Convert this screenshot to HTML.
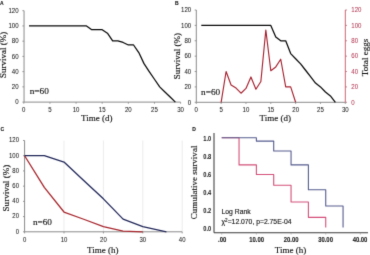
<!DOCTYPE html>
<html><head><meta charset="utf-8"><style>
html,body{margin:0;padding:0;background:#fff;}
svg{display:block;will-change:transform;}
</style></head><body>
<svg width="370" height="255" viewBox="0 0 370 255">
<defs><filter id="bl" x="0" y="0" width="1" height="1" color-interpolation-filters="sRGB"><feConvolveMatrix order="3" kernelMatrix="0.0100 0.0800 0.0100 0.0800 0.6400 0.0800 0.0100 0.0800 0.0100" divisor="1" edgeMode="duplicate"/></filter></defs>
<g filter="url(#bl)">
<rect width="370" height="255" fill="#fff"/>
<text x="0" y="4.6" font-size="5.0" font-family='"Liberation Sans", sans-serif' text-anchor="start" fill="#111" font-weight="bold" stroke="#111" stroke-width="0.1" >A</text>
<line x1="24.05" y1="10.7" x2="24.05" y2="102.1" stroke="#8a8a8a" stroke-width="1"/>
<line x1="24.05" y1="102.1" x2="180.6" y2="102.1" stroke="#8a8a8a" stroke-width="1"/>
<line x1="22.4" y1="102.1" x2="24.05" y2="102.1" stroke="#8a8a8a" stroke-width="0.9"/>
<text transform="translate(18.6,104.35) scale(1,1.08)" font-size="6.1" font-family='"Liberation Sans", sans-serif' text-anchor="end" fill="#222" font-weight="normal" stroke="#222" stroke-width="0.05">0</text>
<line x1="22.4" y1="86.87" x2="24.05" y2="86.87" stroke="#8a8a8a" stroke-width="0.9"/>
<text transform="translate(18.6,89.12) scale(1,1.08)" font-size="6.1" font-family='"Liberation Sans", sans-serif' text-anchor="end" fill="#222" font-weight="normal" stroke="#222" stroke-width="0.05">20</text>
<line x1="22.4" y1="71.63" x2="24.05" y2="71.63" stroke="#8a8a8a" stroke-width="0.9"/>
<text transform="translate(18.6,73.88) scale(1,1.08)" font-size="6.1" font-family='"Liberation Sans", sans-serif' text-anchor="end" fill="#222" font-weight="normal" stroke="#222" stroke-width="0.05">40</text>
<line x1="22.4" y1="56.4" x2="24.05" y2="56.4" stroke="#8a8a8a" stroke-width="0.9"/>
<text transform="translate(18.6,58.65) scale(1,1.08)" font-size="6.1" font-family='"Liberation Sans", sans-serif' text-anchor="end" fill="#222" font-weight="normal" stroke="#222" stroke-width="0.05">60</text>
<line x1="22.4" y1="41.17" x2="24.05" y2="41.17" stroke="#8a8a8a" stroke-width="0.9"/>
<text transform="translate(18.6,43.42) scale(1,1.08)" font-size="6.1" font-family='"Liberation Sans", sans-serif' text-anchor="end" fill="#222" font-weight="normal" stroke="#222" stroke-width="0.05">80</text>
<line x1="22.4" y1="25.93" x2="24.05" y2="25.93" stroke="#8a8a8a" stroke-width="0.9"/>
<text transform="translate(18.6,28.18) scale(1,1.08)" font-size="6.1" font-family='"Liberation Sans", sans-serif' text-anchor="end" fill="#222" font-weight="normal" stroke="#222" stroke-width="0.05">100</text>
<line x1="22.4" y1="10.7" x2="24.05" y2="10.7" stroke="#8a8a8a" stroke-width="0.9"/>
<text transform="translate(18.6,12.95) scale(1,1.08)" font-size="6.1" font-family='"Liberation Sans", sans-serif' text-anchor="end" fill="#222" font-weight="normal" stroke="#222" stroke-width="0.05">120</text>
<line x1="23.8" y1="102.1" x2="23.8" y2="103.7" stroke="#8a8a8a" stroke-width="0.9"/>
<text transform="translate(23.8,111.6) scale(1,1.08)" font-size="6.1" font-family='"Liberation Sans", sans-serif' text-anchor="middle" fill="#222" font-weight="normal" stroke="#222" stroke-width="0.05">0</text>
<line x1="49.93" y1="102.1" x2="49.93" y2="103.7" stroke="#8a8a8a" stroke-width="0.9"/>
<text transform="translate(49.93,111.6) scale(1,1.08)" font-size="6.1" font-family='"Liberation Sans", sans-serif' text-anchor="middle" fill="#222" font-weight="normal" stroke="#222" stroke-width="0.05">5</text>
<line x1="76.07" y1="102.1" x2="76.07" y2="103.7" stroke="#8a8a8a" stroke-width="0.9"/>
<text transform="translate(76.07,111.6) scale(1,1.08)" font-size="6.1" font-family='"Liberation Sans", sans-serif' text-anchor="middle" fill="#222" font-weight="normal" stroke="#222" stroke-width="0.05">10</text>
<line x1="102.2" y1="102.1" x2="102.2" y2="103.7" stroke="#8a8a8a" stroke-width="0.9"/>
<text transform="translate(102.2,111.6) scale(1,1.08)" font-size="6.1" font-family='"Liberation Sans", sans-serif' text-anchor="middle" fill="#222" font-weight="normal" stroke="#222" stroke-width="0.05">15</text>
<line x1="128.33" y1="102.1" x2="128.33" y2="103.7" stroke="#8a8a8a" stroke-width="0.9"/>
<text transform="translate(128.33,111.6) scale(1,1.08)" font-size="6.1" font-family='"Liberation Sans", sans-serif' text-anchor="middle" fill="#222" font-weight="normal" stroke="#222" stroke-width="0.05">20</text>
<line x1="154.47" y1="102.1" x2="154.47" y2="103.7" stroke="#8a8a8a" stroke-width="0.9"/>
<text transform="translate(154.47,111.6) scale(1,1.08)" font-size="6.1" font-family='"Liberation Sans", sans-serif' text-anchor="middle" fill="#222" font-weight="normal" stroke="#222" stroke-width="0.05">25</text>
<line x1="180.6" y1="102.1" x2="180.6" y2="103.7" stroke="#8a8a8a" stroke-width="0.9"/>
<text transform="translate(180.6,111.6) scale(1,1.08)" font-size="6.1" font-family='"Liberation Sans", sans-serif' text-anchor="middle" fill="#222" font-weight="normal" stroke="#222" stroke-width="0.05">30</text>
<text x="96.8" y="120.8" font-size="9" font-family='"Liberation Serif", serif' text-anchor="middle" fill="#111" font-weight="normal" stroke="#111" stroke-width="0.13" >Time (d)</text>
<text x="0" y="0" font-size="9.0" font-family='"Liberation Serif", serif' text-anchor="middle" fill="#111" font-weight="normal" stroke="#111" stroke-width="0.13" transform="translate(6.2,54.8) rotate(-90)">Survival (%)</text>
<text x="29.7" y="94.3" font-size="9.25" font-family='"Liberation Serif", serif' text-anchor="start" fill="#111" font-weight="normal" stroke="#111" stroke-width="0.13" >n=60</text>
<polyline points="29.03,25.93 86.52,25.93 91.75,29.74 102.2,29.74 107.43,33.17 112.65,40.79 117.88,40.79 123.11,42.44 128.33,44.98 133.56,44.98 138.79,52.59 144.01,63.64 149.24,71.63 154.47,79.25 159.69,86.87 164.92,91.95 170.15,97.02 175.37,102.1" fill="none" stroke="#0a0a0a" stroke-width="1.25" stroke-linejoin="round" />
<text x="174.9" y="4.7" font-size="5.0" font-family='"Liberation Sans", sans-serif' text-anchor="start" fill="#111" font-weight="bold" stroke="#111" stroke-width="0.1" >B</text>
<line x1="196.3" y1="10" x2="196.3" y2="102.3" stroke="#8a8a8a" stroke-width="1"/>
<line x1="196.3" y1="102.3" x2="345.3" y2="102.3" stroke="#8a8a8a" stroke-width="1"/>
<line x1="345.3" y1="10" x2="345.3" y2="102.3" stroke="#c86474" stroke-width="1"/>
<line x1="194.7" y1="102.3" x2="196.3" y2="102.3" stroke="#8a8a8a" stroke-width="0.9"/>
<text transform="translate(191.2,104.55) scale(1,1.08)" font-size="6.1" font-family='"Liberation Sans", sans-serif' text-anchor="end" fill="#222" font-weight="normal" stroke="#222" stroke-width="0.05">0</text>
<line x1="345.3" y1="102.3" x2="346.9" y2="102.3" stroke="#c86474" stroke-width="0.9"/>
<text transform="translate(351.3,104.55) scale(1,1.08)" font-size="6.1" font-family='"Liberation Sans", sans-serif' text-anchor="start" fill="#b33e58" font-weight="normal" stroke="#b33e58" stroke-width="0.05">0</text>
<line x1="194.7" y1="86.92" x2="196.3" y2="86.92" stroke="#8a8a8a" stroke-width="0.9"/>
<text transform="translate(191.2,89.17) scale(1,1.08)" font-size="6.1" font-family='"Liberation Sans", sans-serif' text-anchor="end" fill="#222" font-weight="normal" stroke="#222" stroke-width="0.05">20</text>
<line x1="345.3" y1="86.92" x2="346.9" y2="86.92" stroke="#c86474" stroke-width="0.9"/>
<text transform="translate(351.3,89.17) scale(1,1.08)" font-size="6.1" font-family='"Liberation Sans", sans-serif' text-anchor="start" fill="#b33e58" font-weight="normal" stroke="#b33e58" stroke-width="0.05">20</text>
<line x1="194.7" y1="71.53" x2="196.3" y2="71.53" stroke="#8a8a8a" stroke-width="0.9"/>
<text transform="translate(191.2,73.78) scale(1,1.08)" font-size="6.1" font-family='"Liberation Sans", sans-serif' text-anchor="end" fill="#222" font-weight="normal" stroke="#222" stroke-width="0.05">40</text>
<line x1="345.3" y1="71.53" x2="346.9" y2="71.53" stroke="#c86474" stroke-width="0.9"/>
<text transform="translate(351.3,73.78) scale(1,1.08)" font-size="6.1" font-family='"Liberation Sans", sans-serif' text-anchor="start" fill="#b33e58" font-weight="normal" stroke="#b33e58" stroke-width="0.05">40</text>
<line x1="194.7" y1="56.15" x2="196.3" y2="56.15" stroke="#8a8a8a" stroke-width="0.9"/>
<text transform="translate(191.2,58.4) scale(1,1.08)" font-size="6.1" font-family='"Liberation Sans", sans-serif' text-anchor="end" fill="#222" font-weight="normal" stroke="#222" stroke-width="0.05">60</text>
<line x1="345.3" y1="56.15" x2="346.9" y2="56.15" stroke="#c86474" stroke-width="0.9"/>
<text transform="translate(351.3,58.4) scale(1,1.08)" font-size="6.1" font-family='"Liberation Sans", sans-serif' text-anchor="start" fill="#b33e58" font-weight="normal" stroke="#b33e58" stroke-width="0.05">60</text>
<line x1="194.7" y1="40.77" x2="196.3" y2="40.77" stroke="#8a8a8a" stroke-width="0.9"/>
<text transform="translate(191.2,43.02) scale(1,1.08)" font-size="6.1" font-family='"Liberation Sans", sans-serif' text-anchor="end" fill="#222" font-weight="normal" stroke="#222" stroke-width="0.05">80</text>
<line x1="345.3" y1="40.77" x2="346.9" y2="40.77" stroke="#c86474" stroke-width="0.9"/>
<text transform="translate(351.3,43.02) scale(1,1.08)" font-size="6.1" font-family='"Liberation Sans", sans-serif' text-anchor="start" fill="#b33e58" font-weight="normal" stroke="#b33e58" stroke-width="0.05">80</text>
<line x1="194.7" y1="25.38" x2="196.3" y2="25.38" stroke="#8a8a8a" stroke-width="0.9"/>
<text transform="translate(191.2,27.63) scale(1,1.08)" font-size="6.1" font-family='"Liberation Sans", sans-serif' text-anchor="end" fill="#222" font-weight="normal" stroke="#222" stroke-width="0.05">100</text>
<line x1="345.3" y1="25.38" x2="346.9" y2="25.38" stroke="#c86474" stroke-width="0.9"/>
<text transform="translate(351.3,27.63) scale(1,1.08)" font-size="6.1" font-family='"Liberation Sans", sans-serif' text-anchor="start" fill="#b33e58" font-weight="normal" stroke="#b33e58" stroke-width="0.05">100</text>
<line x1="194.7" y1="10" x2="196.3" y2="10" stroke="#8a8a8a" stroke-width="0.9"/>
<text transform="translate(191.2,12.25) scale(1,1.08)" font-size="6.1" font-family='"Liberation Sans", sans-serif' text-anchor="end" fill="#222" font-weight="normal" stroke="#222" stroke-width="0.05">120</text>
<line x1="345.3" y1="10" x2="346.9" y2="10" stroke="#c86474" stroke-width="0.9"/>
<text transform="translate(351.3,12.25) scale(1,1.08)" font-size="6.1" font-family='"Liberation Sans", sans-serif' text-anchor="start" fill="#b33e58" font-weight="normal" stroke="#b33e58" stroke-width="0.05">120</text>
<line x1="196.3" y1="102.3" x2="196.3" y2="103.9" stroke="#8a8a8a" stroke-width="0.9"/>
<text transform="translate(196.3,111.7) scale(1,1.08)" font-size="6.1" font-family='"Liberation Sans", sans-serif' text-anchor="middle" fill="#222" font-weight="normal" stroke="#222" stroke-width="0.05">0</text>
<line x1="221.13" y1="102.3" x2="221.13" y2="103.9" stroke="#8a8a8a" stroke-width="0.9"/>
<text transform="translate(221.13,111.7) scale(1,1.08)" font-size="6.1" font-family='"Liberation Sans", sans-serif' text-anchor="middle" fill="#222" font-weight="normal" stroke="#222" stroke-width="0.05">5</text>
<line x1="245.97" y1="102.3" x2="245.97" y2="103.9" stroke="#8a8a8a" stroke-width="0.9"/>
<text transform="translate(245.97,111.7) scale(1,1.08)" font-size="6.1" font-family='"Liberation Sans", sans-serif' text-anchor="middle" fill="#222" font-weight="normal" stroke="#222" stroke-width="0.05">10</text>
<line x1="270.8" y1="102.3" x2="270.8" y2="103.9" stroke="#8a8a8a" stroke-width="0.9"/>
<text transform="translate(270.8,111.7) scale(1,1.08)" font-size="6.1" font-family='"Liberation Sans", sans-serif' text-anchor="middle" fill="#222" font-weight="normal" stroke="#222" stroke-width="0.05">15</text>
<line x1="295.63" y1="102.3" x2="295.63" y2="103.9" stroke="#8a8a8a" stroke-width="0.9"/>
<text transform="translate(295.63,111.7) scale(1,1.08)" font-size="6.1" font-family='"Liberation Sans", sans-serif' text-anchor="middle" fill="#222" font-weight="normal" stroke="#222" stroke-width="0.05">20</text>
<line x1="320.47" y1="102.3" x2="320.47" y2="103.9" stroke="#8a8a8a" stroke-width="0.9"/>
<text transform="translate(320.47,111.7) scale(1,1.08)" font-size="6.1" font-family='"Liberation Sans", sans-serif' text-anchor="middle" fill="#222" font-weight="normal" stroke="#222" stroke-width="0.05">25</text>
<line x1="345.3" y1="102.3" x2="345.3" y2="103.9" stroke="#8a8a8a" stroke-width="0.9"/>
<text transform="translate(345.3,111.7) scale(1,1.08)" font-size="6.1" font-family='"Liberation Sans", sans-serif' text-anchor="middle" fill="#222" font-weight="normal" stroke="#222" stroke-width="0.05">30</text>
<text x="275.3" y="120.8" font-size="9" font-family='"Liberation Serif", serif' text-anchor="middle" fill="#111" font-weight="normal" stroke="#111" stroke-width="0.13" >Time (d)</text>
<text x="0" y="0" font-size="9.0" font-family='"Liberation Serif", serif' text-anchor="middle" fill="#111" font-weight="normal" stroke="#111" stroke-width="0.13" transform="translate(180.2,56.1) rotate(-90)">Survival (%)</text>
<text x="0" y="0" font-size="9.1" font-family='"Liberation Serif", serif' text-anchor="middle" fill="#111" font-weight="normal" stroke="#111" stroke-width="0.13" transform="translate(368,57.4) rotate(-90)">Total eggs</text>
<text x="201.1" y="95" font-size="9.25" font-family='"Liberation Serif", serif' text-anchor="start" fill="#111" font-weight="normal" stroke="#111" stroke-width="0.13" >n=60</text>
<polyline points="221.13,102.3 226.1,71.53 231.07,85.07 236.03,88.07 241,93.22 245.97,88.45 250.93,76.92 255.9,89.22 260.87,81.53 265.83,30 270.8,70.76 275.77,66.92 280.73,59.23 285.7,86.92 290.67,86.92 295.63,102.3" fill="none" stroke="#a62230" stroke-width="1.15" stroke-linejoin="round" />
<polyline points="201.27,25.38 270.8,25.38 275.77,36.92 280.73,40.77 285.7,40.77 290.67,53.59 295.63,58.71 300.6,63.84 305.57,70.25 310.53,76.66 315.5,83.07 320.47,86.92 325.43,92.05 330.4,95.89 335.37,102.3" fill="none" stroke="#0a0a0a" stroke-width="1.25" stroke-linejoin="round" />
<text x="0.4" y="131.1" font-size="5.0" font-family='"Liberation Sans", sans-serif' text-anchor="start" fill="#111" font-weight="bold" stroke="#111" stroke-width="0.1" >C</text>
<line x1="64" y1="140.5" x2="64" y2="231.8" stroke="#e4e4e4" stroke-width="0.7"/>
<line x1="103.4" y1="140.5" x2="103.4" y2="231.8" stroke="#e4e4e4" stroke-width="0.7"/>
<line x1="142.8" y1="140.5" x2="142.8" y2="231.8" stroke="#e4e4e4" stroke-width="0.7"/>
<line x1="182.2" y1="140.5" x2="182.2" y2="231.8" stroke="#e4e4e4" stroke-width="0.7"/>
<line x1="24.6" y1="140.5" x2="24.6" y2="231.8" stroke="#8a8a8a" stroke-width="1"/>
<line x1="24.6" y1="231.8" x2="182.2" y2="231.8" stroke="#8a8a8a" stroke-width="1"/>
<line x1="23" y1="231.8" x2="24.6" y2="231.8" stroke="#8a8a8a" stroke-width="0.9"/>
<text transform="translate(19,233.7) scale(1,1.08)" font-size="6.0" font-family='"Liberation Sans", sans-serif' text-anchor="end" fill="#222" font-weight="normal" stroke="#222" stroke-width="0.05">0</text>
<line x1="23" y1="216.58" x2="24.6" y2="216.58" stroke="#8a8a8a" stroke-width="0.9"/>
<text transform="translate(19,218.48) scale(1,1.08)" font-size="6.0" font-family='"Liberation Sans", sans-serif' text-anchor="end" fill="#222" font-weight="normal" stroke="#222" stroke-width="0.05">20</text>
<line x1="23" y1="201.37" x2="24.6" y2="201.37" stroke="#8a8a8a" stroke-width="0.9"/>
<text transform="translate(19,203.27) scale(1,1.08)" font-size="6.0" font-family='"Liberation Sans", sans-serif' text-anchor="end" fill="#222" font-weight="normal" stroke="#222" stroke-width="0.05">40</text>
<line x1="23" y1="186.15" x2="24.6" y2="186.15" stroke="#8a8a8a" stroke-width="0.9"/>
<text transform="translate(19,188.05) scale(1,1.08)" font-size="6.0" font-family='"Liberation Sans", sans-serif' text-anchor="end" fill="#222" font-weight="normal" stroke="#222" stroke-width="0.05">60</text>
<line x1="23" y1="170.93" x2="24.6" y2="170.93" stroke="#8a8a8a" stroke-width="0.9"/>
<text transform="translate(19,172.83) scale(1,1.08)" font-size="6.0" font-family='"Liberation Sans", sans-serif' text-anchor="end" fill="#222" font-weight="normal" stroke="#222" stroke-width="0.05">80</text>
<line x1="23" y1="155.72" x2="24.6" y2="155.72" stroke="#8a8a8a" stroke-width="0.9"/>
<text transform="translate(19,157.62) scale(1,1.08)" font-size="6.0" font-family='"Liberation Sans", sans-serif' text-anchor="end" fill="#222" font-weight="normal" stroke="#222" stroke-width="0.05">100</text>
<line x1="23" y1="140.5" x2="24.6" y2="140.5" stroke="#8a8a8a" stroke-width="0.9"/>
<text transform="translate(19,142.4) scale(1,1.08)" font-size="6.0" font-family='"Liberation Sans", sans-serif' text-anchor="end" fill="#222" font-weight="normal" stroke="#222" stroke-width="0.05">120</text>
<line x1="24.6" y1="231.8" x2="24.6" y2="233.4" stroke="#8a8a8a" stroke-width="0.9"/>
<text transform="translate(24.6,241.7) scale(1,1.08)" font-size="6.0" font-family='"Liberation Sans", sans-serif' text-anchor="middle" fill="#222" font-weight="normal" stroke="#222" stroke-width="0.05">0</text>
<line x1="64" y1="231.8" x2="64" y2="233.4" stroke="#8a8a8a" stroke-width="0.9"/>
<text transform="translate(64,241.7) scale(1,1.08)" font-size="6.0" font-family='"Liberation Sans", sans-serif' text-anchor="middle" fill="#222" font-weight="normal" stroke="#222" stroke-width="0.05">10</text>
<line x1="103.4" y1="231.8" x2="103.4" y2="233.4" stroke="#8a8a8a" stroke-width="0.9"/>
<text transform="translate(103.4,241.7) scale(1,1.08)" font-size="6.0" font-family='"Liberation Sans", sans-serif' text-anchor="middle" fill="#222" font-weight="normal" stroke="#222" stroke-width="0.05">20</text>
<line x1="142.8" y1="231.8" x2="142.8" y2="233.4" stroke="#8a8a8a" stroke-width="0.9"/>
<text transform="translate(142.8,241.7) scale(1,1.08)" font-size="6.0" font-family='"Liberation Sans", sans-serif' text-anchor="middle" fill="#222" font-weight="normal" stroke="#222" stroke-width="0.05">30</text>
<line x1="182.2" y1="231.8" x2="182.2" y2="233.4" stroke="#8a8a8a" stroke-width="0.9"/>
<text transform="translate(182.2,241.7) scale(1,1.08)" font-size="6.0" font-family='"Liberation Sans", sans-serif' text-anchor="middle" fill="#222" font-weight="normal" stroke="#222" stroke-width="0.05">40</text>
<text x="102.7" y="252.6" font-size="9" font-family='"Liberation Serif", serif' text-anchor="middle" fill="#111" font-weight="normal" stroke="#111" stroke-width="0.13" >Time (h)</text>
<text x="0" y="0" font-size="9.1" font-family='"Liberation Serif", serif' text-anchor="middle" fill="#111" font-weight="normal" stroke="#111" stroke-width="0.13" transform="translate(8.5,188.1) rotate(-90)">Survival (%)</text>
<text x="32.9" y="224.9" font-size="9.25" font-family='"Liberation Serif", serif' text-anchor="start" fill="#111" font-weight="normal" stroke="#111" stroke-width="0.13" >n=60</text>
<polyline points="24.6,155.72 44.3,187.42 64,212.02 83.7,219.25 103.4,226.73 123.1,231.04 142.8,231.8" fill="none" stroke="#a8282f" stroke-width="1.3" stroke-linejoin="round" />
<polyline points="24.6,155.72 44.3,155.72 64,162.05 83.7,180.44 103.4,198.83 123.1,219.12 142.8,226.73 166.44,231.8" fill="none" stroke="#22285a" stroke-width="1.3" stroke-linejoin="round" />
<text x="192.2" y="131.3" font-size="5.0" font-family='"Liberation Sans", sans-serif' text-anchor="start" fill="#111" font-weight="bold" stroke="#111" stroke-width="0.1" >D</text>
<line x1="214" y1="133" x2="214" y2="232.8" stroke="#3a3a3a" stroke-width="1.05"/>
<line x1="214" y1="232.8" x2="368" y2="232.8" stroke="#3a3a3a" stroke-width="1.1"/>
<text transform="translate(211.2,230.8) scale(1,1.16)" font-size="5.7" font-family='"Liberation Sans", sans-serif' text-anchor="end" fill="#222" font-weight="bold" stroke="#222" stroke-width="0.04">0.0</text>
<text transform="translate(211.2,212.84) scale(1,1.16)" font-size="5.7" font-family='"Liberation Sans", sans-serif' text-anchor="end" fill="#222" font-weight="bold" stroke="#222" stroke-width="0.04">0.2</text>
<text transform="translate(211.2,194.88) scale(1,1.16)" font-size="5.7" font-family='"Liberation Sans", sans-serif' text-anchor="end" fill="#222" font-weight="bold" stroke="#222" stroke-width="0.04">0.4</text>
<text transform="translate(211.2,176.92) scale(1,1.16)" font-size="5.7" font-family='"Liberation Sans", sans-serif' text-anchor="end" fill="#222" font-weight="bold" stroke="#222" stroke-width="0.04">0.6</text>
<text transform="translate(211.2,158.96) scale(1,1.16)" font-size="5.7" font-family='"Liberation Sans", sans-serif' text-anchor="end" fill="#222" font-weight="bold" stroke="#222" stroke-width="0.04">0.8</text>
<text transform="translate(211.2,141) scale(1,1.16)" font-size="5.7" font-family='"Liberation Sans", sans-serif' text-anchor="end" fill="#222" font-weight="bold" stroke="#222" stroke-width="0.04">1.0</text>
<line x1="221.7" y1="232.8" x2="221.7" y2="234.6" stroke="#999" stroke-width="0.6"/>
<text transform="translate(222.2,241.7) scale(1,1.14)" font-size="5.9" font-family='"Liberation Sans", sans-serif' text-anchor="middle" fill="#222" font-weight="bold" stroke="#222" stroke-width="0.1">.00</text>
<line x1="256.38" y1="232.8" x2="256.38" y2="234.6" stroke="#999" stroke-width="0.6"/>
<text transform="translate(256.65,241.7) scale(1,1.14)" font-size="5.9" font-family='"Liberation Sans", sans-serif' text-anchor="middle" fill="#222" font-weight="bold" stroke="#222" stroke-width="0.1">10.00</text>
<line x1="291.05" y1="232.8" x2="291.05" y2="234.6" stroke="#999" stroke-width="0.6"/>
<text transform="translate(291.1,241.7) scale(1,1.14)" font-size="5.9" font-family='"Liberation Sans", sans-serif' text-anchor="middle" fill="#222" font-weight="bold" stroke="#222" stroke-width="0.1">20.00</text>
<line x1="325.73" y1="232.8" x2="325.73" y2="234.6" stroke="#999" stroke-width="0.6"/>
<text transform="translate(325.55,241.7) scale(1,1.14)" font-size="5.9" font-family='"Liberation Sans", sans-serif' text-anchor="middle" fill="#222" font-weight="bold" stroke="#222" stroke-width="0.1">30.00</text>
<line x1="360.4" y1="232.8" x2="360.4" y2="234.6" stroke="#999" stroke-width="0.6"/>
<text transform="translate(360,241.7) scale(1,1.14)" font-size="5.9" font-family='"Liberation Sans", sans-serif' text-anchor="middle" fill="#222" font-weight="bold" stroke="#222" stroke-width="0.1">40.00</text>
<text x="290.5" y="252.6" font-size="9" font-family='"Liberation Serif", serif' text-anchor="middle" fill="#111" font-weight="normal" stroke="#111" stroke-width="0.13" >Time (h)</text>
<text x="0" y="0" font-size="9.05" font-family='"Liberation Serif", serif' text-anchor="middle" fill="#111" font-weight="normal" stroke="#111" stroke-width="0.13" transform="translate(197.4,182.4) rotate(-90)">Cumulative survival</text>
<polyline points="221.7,137.7 239.04,137.7 239.04,164.91 256.38,164.91 256.38,174.52 273.71,174.52 273.71,185.29 291.05,185.29 291.05,202 308.39,202 308.39,217.35 325.73,217.35 325.73,227.5" fill="none" stroke="#d4507a" stroke-width="1.1" stroke-linejoin="round" stroke-linejoin="miter"/>
<polyline points="221.7,137.7 256.38,137.7 256.38,141.11 273.71,141.11 273.71,150.99 291.05,150.99 291.05,164.91 308.39,164.91 308.39,189.78 325.73,189.78 325.73,205.95 343.06,205.95 343.06,227.5" fill="none" stroke="#565c8e" stroke-width="1.1" stroke-linejoin="round" stroke-linejoin="miter"/>
<text x="221.5" y="214.3" font-size="6.8" font-family='"Liberation Sans", sans-serif' text-anchor="start" fill="#1a1a1a" font-weight="normal" stroke="#1a1a1a" stroke-width="0.15" >Log Rank</text>
<text x="221.5" y="224.3" font-size="6.8" font-family='"Liberation Sans", sans-serif' text-anchor="start" fill="#1a1a1a" font-weight="normal" stroke="#1a1a1a" stroke-width="0.15" >χ<tspan font-size="4.6" dy="-2.7">2</tspan><tspan dy="2.7">=12.070, p=2.75E-04</tspan></text>
</g>
</svg>
</body></html>
